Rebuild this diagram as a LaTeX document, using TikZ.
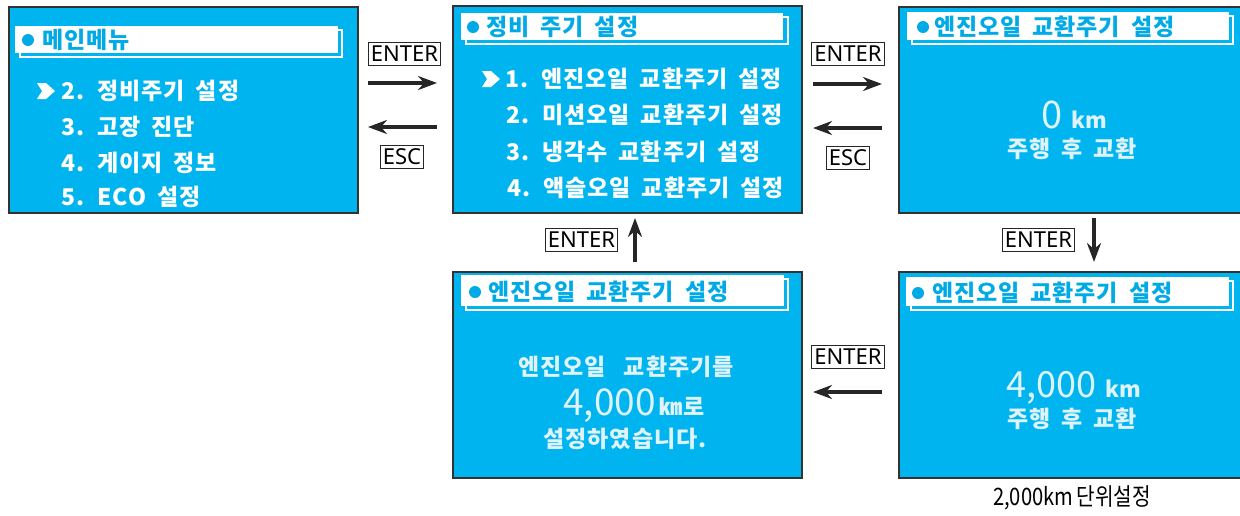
\documentclass[tikz,border=0pt]{standalone}
\usepackage{fontspec}
\usetikzlibrary{arrows.meta}
\newfontfamily\kr{Noto Sans CJK KR}[WordSpace=1.8, LetterSpace=4]
\newfontfamily\krc{Noto Sans CJK KR}
\newfontfamily\lbl{Noto Sans}
\definecolor{lcd}{RGB}{0,181,239}
\definecolor{lcdtxt}{RGB}{222,243,251}
\definecolor{ttl}{RGB}{0,170,230}
\tikzset{
  screen/.style={draw=black!80, line width=1.8pt, fill=lcd, anchor=north west, inner sep=0pt},
  ttlbar/.style={fill=white, draw=none, anchor=north west, inner sep=0pt},
  ttlshadow/.style={draw=white, line width=1.3pt},
  ttltext/.style={anchor=west, inner sep=0pt, text=ttl, font=\kr\bfseries\fontsize{23}{27}\selectfont},
  menu/.style={anchor=west, inner sep=0pt, text=white, font=\kr\bfseries\fontsize{23}{27}\selectfont},
  disp/.style={inner sep=0pt, text=lcdtxt, font=\kr\bfseries\fontsize{23}{27}\selectfont},
  keybox/.style={draw=black!85, line width=1pt, inner xsep=2.5pt, inner ysep=0pt, minimum height=23pt, font=\lbl\fontsize{22}{24}\selectfont},
  arr/.style={-{Stealth[length=19pt,width=14pt]}, line width=3.2pt, draw=black!85},
  pointer/.style={fill=white, draw=none},
  dot/.style={fill=ttl, draw=none}
}
\begin{document}
\begin{tikzpicture}[x=1pt,y=-1pt]
\useasboundingbox (0,0) rectangle (1240,515);
\clip (0,0) rectangle (1240,515);

% screens
\node[screen, minimum width=349pt, minimum height=206pt] (s1) at (8,6) {};
\node[screen, minimum width=349pt, minimum height=207pt] (s2) at (452,5) {};
\node[screen, minimum width=350pt, minimum height=206pt] (s3) at (898,6) {};
\node[screen, minimum width=349pt, minimum height=206pt] (s4) at (452,271) {};
\node[screen, minimum width=350pt, minimum height=206pt] (s5) at (898,271) {};

% title bars
\draw[ttlshadow] (20,30) rectangle (342,57);
\node[ttlbar, minimum width=323pt, minimum height=27pt] (t1) at (15,26) {};
\draw[ttlshadow] (466,17) rectangle (788,44);
\node[ttlbar, minimum width=322pt, minimum height=27pt] (t2) at (461,13) {};
\draw[ttlshadow] (912,16) rectangle (1233,44);
\node[ttlbar, minimum width=322pt, minimum height=28pt] (t3) at (907,12) {};
\draw[ttlshadow] (466,279) rectangle (788,310);
\node[ttlbar, minimum width=323pt, minimum height=31pt] (t4) at (461,275) {};
\draw[ttlshadow] (911,281) rectangle (1233,310);
\node[ttlbar, minimum width=323pt, minimum height=29pt] (t5) at (906,277) {};

% titles
\fill[dot] (28,40) circle (6);
\node[ttltext] (h1) at (42,40) {메인메뉴};
\fill[dot] (473,27) circle (6);
\node[ttltext] (h2) at (486,27) {정비 주기 설정};
\fill[dot] (923,27) circle (6);
\node[ttltext] (h3) at (934,27) {엔진오일 교환주기 설정};
\fill[dot] (475,292) circle (6);
\node[ttltext] (h4) at (488,292) {엔진오일 교환주기 설정};
\fill[dot] (918,293) circle (6);
\node[ttltext] (h5) at (932,293) {엔진오일 교환주기 설정};

% main menu
\fill[pointer] (37,83) -- (46,83) -- (55,91) -- (46,99) -- (37,99) -- (42,91) -- cycle;
\node[menu] (m1) at (61,91) {2. 정비주기 설정};
\node[menu] (m2) at (61,127) {3. 고장 진단};
\node[menu] (m3) at (61,163) {4. 게이지 정보};
\node[menu] (m4) at (61,197) {5. ECO 설정};

% maintenance menu
\fill[pointer] (482,71) -- (491,71) -- (500,79) -- (491,87) -- (482,87) -- (487,79) -- cycle;
\node[menu] (n1) at (505,79) {1. 엔진오일 교환주기 설정};
\node[menu] (n2) at (506,115) {2. 미션오일 교환주기 설정};
\node[menu] (n3) at (506,152) {3. 냉각수 교환주기 설정};
\node[menu] (n4) at (507,188) {4. 액슬오일 교환주기 설정};

% screen 3
\node[disp, anchor=base] (v3) at (1074,128) {{\krc\mdseries\fontsize{38}{40}\selectfont 0}\hspace{9pt}{\krc\bfseries\fontsize{22}{24}\selectfont km}};
\node[disp] (w3) at (1072,149) {주행 후 교환};

% screen 5
\node[disp, anchor=base] (v5) at (1074,397) {{\krc\mdseries\fontsize{36}{38}\selectfont 4,000}\hspace{9pt}{\krc\bfseries\fontsize{22}{24}\selectfont km}};
\node[disp] (w5) at (1072,419) {주행 후 교환};

% screen 4
\node[disp] (c1) at (626,367) {엔진오일\hspace{18pt}교환주기를};
\node[disp, anchor=base] (c2) at (634,415) {{\krc\mdseries\fontsize{37}{39}\selectfont 4,000}\hspace{4pt}㎞로};
\node[disp] (c3) at (625,439) {설정하였습니다.};

% caption
\node[inner sep=0pt, font=\krc\fontsize{24}{26}\selectfont] (cap) at (1072,498) {\scalebox{0.84}[1]{2,000km\,단위설정}};

% key labels
\node[keybox] (k1) at (404.5,53.5) {ENTER};
\node[keybox] (k2) at (402,157) {ESC};
\node[keybox] (k3) at (848,53.5) {ENTER};
\node[keybox] (k4) at (848,157.5) {ESC};
\node[keybox] (k5) at (1038.5,240) {ENTER};
\node[keybox] (k6) at (848,356.5) {ENTER};
\node[keybox] (k7) at (581.5,239.5) {ENTER};

% arrow end points
\coordinate (p1a) at (368,83);  \coordinate (p1b) at (437,83);
\coordinate (p2a) at (437,127); \coordinate (p2b) at (368,127);
\coordinate (p3a) at (813,84);  \coordinate (p3b) at (882,84);
\coordinate (p4a) at (882,128); \coordinate (p4b) at (813,128);
\coordinate (p5a) at (1094,218); \coordinate (p5b) at (1094,262);
\coordinate (p6a) at (882,392); \coordinate (p6b) at (813,392);
\coordinate (p7a) at (635,262); \coordinate (p7b) at (635,218);

\draw[arr] (p1a) -- (p1b);
\draw[arr] (p2a) -- (p2b);
\draw[arr] (p3a) -- (p3b);
\draw[arr] (p4a) -- (p4b);
\draw[arr] (p5a) -- (p5b);
\draw[arr] (p6a) -- (p6b);
\draw[arr] (p7a) -- (p7b);
\end{tikzpicture}
\end{document}
